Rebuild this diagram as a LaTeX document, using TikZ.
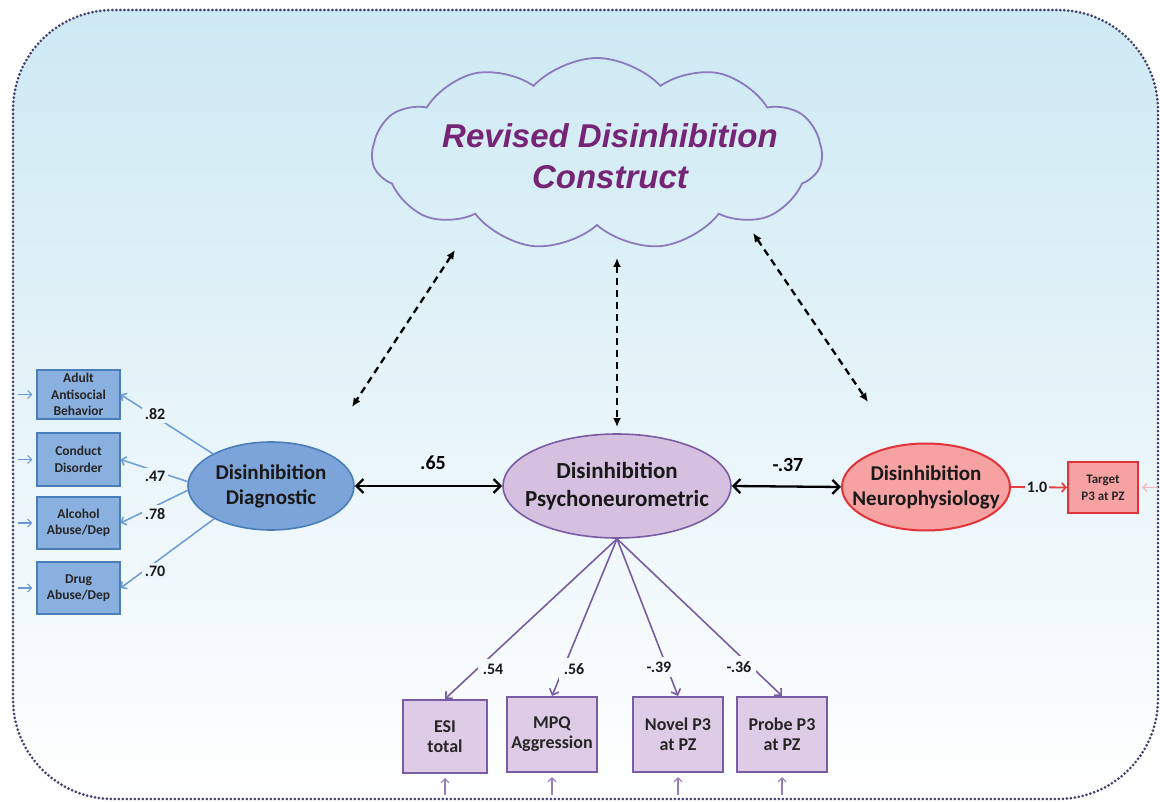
\documentclass[tikz,border=0pt]{standalone}
\usepackage{fontspec}
\setmainfont{Carlito}
\newfontfamily\cloudfont{Liberation Sans}
\usetikzlibrary{shapes.symbols,shapes.geometric,arrows.meta}
\definecolor{bgtop}{RGB}{205,233,243}
\definecolor{framec}{RGB}{66,64,112}
\definecolor{cloudc}{RGB}{140,122,190}
\definecolor{cloudtext}{RGB}{118,36,118}
\definecolor{diagF}{RGB}{124,164,216}
\definecolor{diagB}{RGB}{74,126,187}
\definecolor{bboxF}{RGB}{138,176,224}
\definecolor{blueline}{RGB}{105,155,215}
\definecolor{psyF}{RGB}{214,192,224}
\definecolor{psyB}{RGB}{122,92,165}
\definecolor{pboxF}{RGB}{222,204,230}
\definecolor{neuF}{RGB}{246,162,162}
\definecolor{neuB}{RGB}{224,52,58}
\definecolor{redline}{RGB}{232,64,64}
\definecolor{pinkline}{RGB}{245,182,182}
\definecolor{bgA}{RGB}{233,245,250}
\definecolor{bgB}{RGB}{237,247,251}
\definecolor{bgC}{RGB}{246,251,253}
\tikzset{
  bluebox/.style={draw=diagB, fill=bboxF, line width=1.3pt, minimum width=83pt, inner sep=0pt, align=center, font=\bfseries\fontsize{13.5}{16.5}\selectfont, text=black!85},
  purplebox/.style={draw=psyB, fill=pboxF, line width=2.2pt, minimum width=90pt, minimum height=75pt, inner sep=0pt, align=center, font=\bfseries\fontsize{18}{20}\selectfont, text=black!85},
  latent/.style={ellipse, line width=1.6pt, inner sep=0pt},
  elabel/.style={align=center, font=\bfseries\fontsize{21}{25}\selectfont, text=black!90},
  dasharrow/.style={line width=2.3pt, dash pattern=on 7pt off 5pt, {Latex[length=9pt,width=8pt]}-{Latex[length=9pt,width=8pt]}},
  dblarrow/.style={line width=2.3pt, {Straight Barb[length=7pt,width=14pt]}-{Straight Barb[length=7pt,width=14pt]}},
  blueload/.style={draw=blueline, line width=1.5pt, -{Straight Barb[length=4pt,width=9pt]}},
  purpleload/.style={draw=psyB, line width=1.6pt, -{Straight Barb[length=5pt,width=10pt]}},
  errblue/.style={draw=blueline, line width=1.1pt, shorten >=4pt, -{Straight Barb[length=4pt,width=8pt]}},
  errpurple/.style={draw=psyB!80, line width=1.1pt, shorten >=4pt, -{Straight Barb[length=4pt,width=8pt]}},
  coef/.style={font=\bfseries\fontsize{16}{18}\selectfont, inner sep=3pt, text=black!90},
  bigcoef/.style={font=\bfseries\fontsize{20}{22}\selectfont, inner sep=2pt, text=black},
}
\begin{document}
\begin{tikzpicture}[x=1pt,y=-1pt]
\useasboundingbox (0,0) rectangle (1160,802);
% background panel
\path[top color=bgtop, bottom color=white, rounded corners=100pt] (13,10) rectangle (1158,799);
\draw[framec, line width=3pt, dash pattern=on 0pt off 4pt, line cap=round, rounded corners=100pt] (13,10) rectangle (1158,799);

% cloud
\node[cloud, draw=cloudc, line width=1.8pt, cloud puffs=11, cloud puff arc=95, aspect=2.34, minimum width=450pt, minimum height=192pt, inner sep=0pt] (cloud) at (597,154) {};
\node[font=\cloudfont\bfseries\itshape\fontsize{33}{41}\selectfont, text=cloudtext, align=center, inner sep=0pt] (cloudtxt) at (610,156) {Revised Disinhibition\\Construct};

% latent variables
\node[latent, draw=diagB, fill=diagF, minimum width=166pt, minimum height=88pt,
  label={[elabel]center:Disinhibition\\Diagnostic}] (diag) at (271,486) {};
\node[latent, draw=psyB, fill=psyF, minimum width=228pt, minimum height=104pt,
  label={[elabel, font=\bfseries\fontsize{23}{28}\selectfont]center:Disinhibition\\Psychoneurometric}] (psy) at (617,486) {};
\node[latent, draw=neuB, fill=neuF, line width=2pt, minimum width=168pt, minimum height=87pt,
  label={[elabel]center:Disinhibition\\Neurophysiology}] (neu) at (926,487) {};

% dashed links to construct
\coordinate (dLa) at (455,250); \coordinate (dLb) at (352,407);
\coordinate (dMa) at (617,258); \coordinate (dMb) at (617,427);
\coordinate (dRa) at (753,233); \coordinate (dRb) at (868,402);
\draw[dasharrow] (dLa) -- (dLb);
\draw[dasharrow] (dMa) -- (dMb);
\draw[dasharrow] (dRa) -- (dRb);

% correlations between latents
\draw[dblarrow] (diag.east) -- (psy.west);
\draw[dblarrow] (psy.east) -- (neu.west);
\node[bigcoef] (c65) at (433,463) {.65};
\node[bigcoef] (c37) at (788,465) {-.37};

% diagnostic indicators
\node[bluebox, minimum height=49pt] (adult) at (78.5,394.5) {Adult\\Antisocial\\Behavior};
\node[bluebox, minimum height=53pt] (conduct) at (78.5,459.5) {Conduct\\Disorder};
\node[bluebox, minimum height=52pt] (alcohol) at (78.5,523) {Alcohol\\Abuse/Dep};
\node[bluebox, minimum height=52pt] (drug) at (78.5,588) {Drug\\Abuse/Dep};
\draw[blueload] (diag.151) -- (adult.east);
\draw[blueload] (diag.177) -- (conduct.east);
\draw[blueload] (diag.183) -- (alcohol.east);
\draw[blueload] (diag.210) -- (drug.east);
\node[coef, fill=bgA] (l82) at (155,414) {.82};
\node[coef, fill=bgA] (l47) at (155,476) {.47};
\node[coef, fill=bgB] (l78) at (155,514) {.78};
\node[coef, fill=bgB] (l70) at (155,571) {.70};
\coordinate (ea) at (18,394.5);
\coordinate (eb) at (18,459.5);
\coordinate (ec) at (18,523);
\coordinate (ed) at (18,588);
\draw[errblue] (ea) -- (adult.west);
\draw[errblue] (eb) -- (conduct.west);
\draw[errblue] (ec) -- (alcohol.west);
\draw[errblue] (ed) -- (drug.west);

% neurophysiology indicator
\node[draw=neuB, fill=neuF, line width=2pt, minimum width=70pt, minimum height=51pt, inner sep=0pt, align=center, font=\bfseries\fontsize{13}{17}\selectfont, text=black!85] (target) at (1103,487.5) {Target\\P3 at PZ};
\draw[draw=redline, line width=1.8pt, -{Straight Barb[length=4pt,width=9pt]}] (neu.east) -- (target.west);
\node[coef, fill=bgA, inner sep=2pt] (l10) at (1037,487) {1.0};
\coordinate (et) at (1158,487.5);
\draw[draw=pinkline, line width=1.3pt, shorten >=3pt, -{Straight Barb[length=4pt,width=8pt]}] (et) -- (target.east);

% psychoneurometric indicators
\node[purplebox, minimum width=84pt, minimum height=73pt] (esi) at (445,736.5) {ESI\\total};
\node[purplebox] (mpq) at (552,734.5) {MPQ\\Aggression};
\node[purplebox] (novel) at (678,734.5) {Novel P3\\at PZ};
\node[purplebox] (probe) at (782,734.5) {Probe P3\\at PZ};
\draw[purpleload] (psy.south) -- (esi.north);
\draw[purpleload] (psy.south) -- (mpq.north);
\draw[purpleload] (psy.south) -- (novel.north);
\draw[purpleload] (psy.south) -- (probe.north);
\node[coef, fill=bgC, inner sep=5pt] (l54) at (493,669) {.54};
\node[coef, fill=bgC, inner sep=5pt] (l56) at (574,669) {.56};
\node[coef, fill=bgC, inner sep=5pt] (l39) at (659,667) {-.39};
\node[coef, fill=bgC, inner sep=5pt] (l36) at (739,667) {-.36};
\coordinate (ua) at (445,795);
\coordinate (ub) at (552,795);
\coordinate (uc) at (678,795);
\coordinate (ud) at (782,795);
\draw[errpurple] (ua) -- (esi.south);
\draw[errpurple] (ub) -- (mpq.south);
\draw[errpurple] (uc) -- (novel.south);
\draw[errpurple] (ud) -- (probe.south);
\end{tikzpicture}
\end{document}
